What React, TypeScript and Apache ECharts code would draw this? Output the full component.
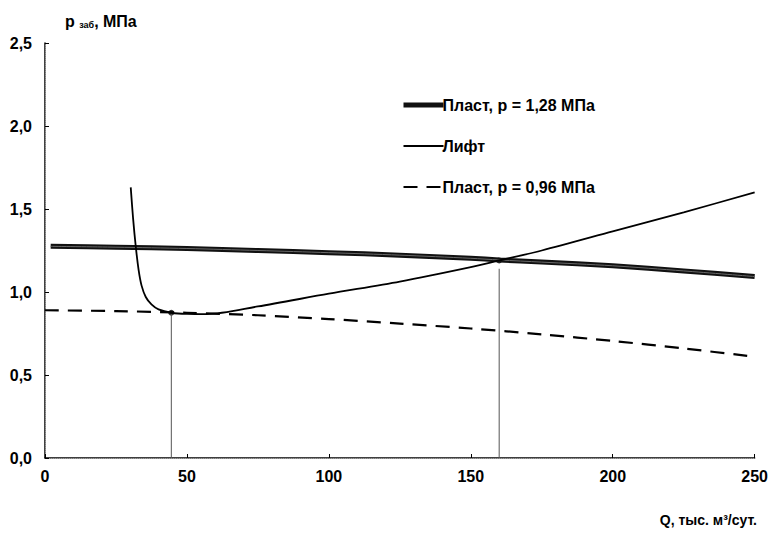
import React, { useEffect, useRef } from "react";
import * as echarts from "echarts";

const plast128: [number, number][] = [
  [2, 1.275], [25, 1.27], [50, 1.262], [75, 1.25], [100, 1.237], [125, 1.222],
  [150, 1.203], [160, 1.193], [175, 1.18], [200, 1.158], [225, 1.127], [250, 1.093],
];
const lift: [number, number][] = [
  [30.2, 1.63], [31, 1.45], [32, 1.27], [33, 1.13], [34, 1.04], [35.5, 0.97],
  [37.5, 0.925], [40, 0.895], [44.5, 0.875], [50, 0.868], [57, 0.867], [75, 0.913],
  [100, 0.99], [125, 1.063], [150, 1.15], [160, 1.19], [175, 1.25], [200, 1.365],
  [225, 1.48], [250, 1.6],
];
const plast096: [number, number][] = [
  [0, 0.89], [25, 0.885], [50, 0.875], [75, 0.86], [100, 0.837], [125, 0.81],
  [150, 0.78], [175, 0.745], [200, 0.705], [225, 0.66], [250, 0.61],
];
const points: [number, number][] = [[44.5, 0.875], [160, 1.19]];
const vline1: [number, number][] = [[44.5, 0], [44.5, 0.875]];
const vline2: [number, number][] = [[160, 0], [160, 1.14]];

const F = "'Liberation Sans', Arial, sans-serif";

export default function App() {
  const ref = useRef<HTMLDivElement>(null);
  useEffect(() => {
    const chart = echarts.init(ref.current!, null, { renderer: "svg" });
    chart.setOption({
      animation: false,
      backgroundColor: "#fff",
      grid: { left: 45, top: 43, right: 13, bottom: 79, containLabel: false },
      title: {
        text: "{a|р }{b|заб}{a|, МПа}",
        left: 60,
        top: 8,
        textStyle: {
          rich: {
            a: { fontFamily: F, fontWeight: "bold", fontSize: 16, color: "#000" },
            b: { fontFamily: F, fontWeight: "bold", fontSize: 9, color: "#000", verticalAlign: "bottom", padding: [6, 0, 0, 0] },
          },
        },
      },
      legend: {
        orient: "vertical",
        left: 396,
        top: 92,
        itemWidth: 40,
        itemHeight: 16,
        itemGap: 25,
        itemStyle: { opacity: 0 },
        data: [
          { name: "Пласт, р = 1,28 МПа", lineStyle: { width: 5, color: "#111" } },
          { name: "Лифт", lineStyle: { width: 2, color: "#000" } },
          { name: "Пласт, р = 0,96 МПа", lineStyle: { width: 2.2, color: "#000", type: [14, 9] } },
        ],
        textStyle: { fontFamily: F, fontWeight: "bold", fontSize: 16, color: "#000", padding: [0, 0, 0, -6] },
      },
      xAxis: [
        {
          type: "value", min: 0, max: 250, interval: 50,
          axisLine: { show: true, onZero: false, lineStyle: { color: "#000", width: 1.5 } },
          axisTick: { show: true, inside: true, length: 4, lineStyle: { color: "#000" } },
          axisLabel: { fontFamily: F, fontWeight: "bold", fontSize: 16, color: "#000", margin: 10 },
          splitLine: { show: false },
        },
        {
          type: "value", min: 0, max: 250, position: "top",
          axisLine: { show: true, lineStyle: { color: "#999", type: "dotted", width: 1 } },
          axisTick: { show: false }, axisLabel: { show: false }, splitLine: { show: false },
        },
      ],
      yAxis: [
        {
          type: "value", min: 0, max: 2.5, interval: 0.5,
          axisLine: { show: true, onZero: false, lineStyle: { color: "#000", width: 1.5 } },
          axisTick: { show: true, inside: true, length: 4, lineStyle: { color: "#000" } },
          axisLabel: {
            fontFamily: F, fontWeight: "bold", fontSize: 16, color: "#000", margin: 13,
            formatter: (v: number) => v.toFixed(1).replace(".", ","),
          },
          splitLine: { show: false },
        },
        {
          type: "value", min: 0, max: 2.5, position: "right",
          axisLine: { show: true, lineStyle: { color: "#999", type: "dotted", width: 1 } },
          axisTick: { show: false }, axisLabel: { show: false }, splitLine: { show: false },
        },
      ],
      graphic: [
        {
          type: "text", right: 14, top: 513,
          style: { text: "Q, тыс. м³/сут.", fontFamily: F, fontWeight: "bold", fontSize: 14, fill: "#000" },
        },
      ],
      series: [
        {
          name: "vl1", type: "line", data: vline1, symbol: "none",
          lineStyle: { color: "#555", width: 1 }, silent: true,
        },
        {
          name: "vl2", type: "line", data: vline2, symbol: "none",
          lineStyle: { color: "#555", width: 1 }, silent: true,
        },
        {
          name: "Пласт, р = 0,96 МПа", type: "line", data: plast096, symbol: "none", smooth: 0.3,
          itemStyle: { color: "#000" },
          lineStyle: { color: "#000", width: 2.2, type: [14, 9] },
        },
        {
          name: "Пласт, р = 1,28 МПа", type: "line", data: plast128, symbol: "none", smooth: 0.3,
          itemStyle: { color: "#111" },
          lineStyle: { color: "#111", width: 5 },
        },
        {
          name: "inner", type: "line", data: plast128, symbol: "none", smooth: 0.3,
          lineStyle: { color: "#6a6a6a", width: 1 }, silent: true,
        },
        {
          name: "Лифт", type: "line", data: lift, symbol: "none", smooth: 0.3,
          itemStyle: { color: "#000" },
          lineStyle: { color: "#000", width: 1.8 },
        },
        {
          name: "pts", type: "scatter", data: points, symbolSize: 6,
          itemStyle: { color: "#000" }, silent: true,
        },
      ],
    });
    return () => chart.dispose();
  }, []);
  return (
    <div
      ref={ref}
      style={{ position: "fixed", left: 0, top: 0, width: 771, height: 537, background: "#fff" }}
    />
  );
}
